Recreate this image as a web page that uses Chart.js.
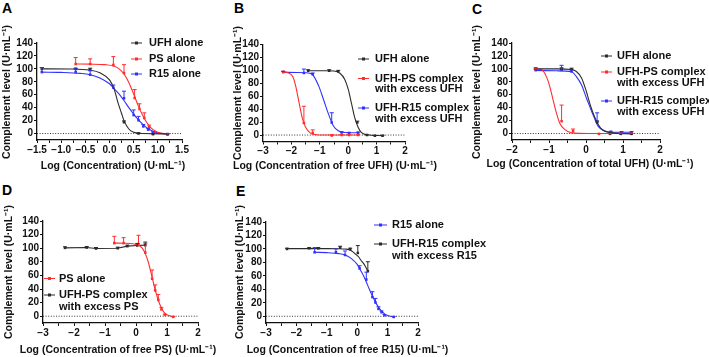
<!DOCTYPE html>
<html>
<head>
<meta charset="utf-8">
<script src="https://cdn.jsdelivr.net/npm/chart.js@4.4.0/dist/chart.umd.min.js"></script>
<style>
  html, body { margin: 0; padding: 0; background: #fff; }
  #page { position: relative; width: 709px; height: 357px; overflow: hidden; font-family: "Liberation Sans", Arial, sans-serif; }
  .tag { position: absolute; font: bold 14px "Liberation Sans", Arial, sans-serif; color: #000; }
</style>
</head>
<body>
<div id="page">
  <div class="tag" style="left:2px;top:0px">A</div>
  <div class="tag" style="left:234px;top:0px">B</div>
  <div class="tag" style="left:472px;top:1px">C</div>
  <div class="tag" style="left:2px;top:182px">D</div>
  <div class="tag" style="left:236px;top:183px">E</div>
</div>
<script>
// complement level vs log concentration, five panels

// shared tick labels
const yTicks = [0, 20, 40, 60, 80, 100, 120, 140];
const yTitle = 'Complement level (U·mL⁻¹)';
const aTicks = [-1.5, -1.25, -1.0, -0.75, -0.5, -0.25, 0, 0.25, 0.5, 0.75, 1.0, 1.25, 1.5];
const aTickLabels = ['−1.5', '', '−1.0', '', '−0.5', '', '0.0', '', '0.5', '', '1.0', '', '1.5'];
const wideTicks = [-3, -2.5, -2, -1.5, -1, -0.5, 0, 0.5, 1, 1.5, 2];
const wideTickLabels = ['−3', '', '−2', '', '−1', '', '0', '', '1', '', '2'];
const cTicks = [-2, -1.5, -1, -0.5, 0, 0.5, 1, 1.5, 2];
const cTickLabels = ['−2', '', '−1', '', '0', '', '1', '', '2'];

// UFH alone (A)
const aUfhX = [-1.4, -0.7, -0.4, 0.3, 0.6, 0.9, 1.2];
const aUfhY = [100, 100, 99, 17.5, 0, -1, -1];
const aUfhErr = [2, 1, 2, 2, 1, 0.5, 0.5];
const aUfhFitX = [-1.4, -0.8, -0.4, -0.2, 0, 0.1, 0.17, 0.25, 0.3, 0.4, 0.5, 0.7, 1.2];
const aUfhFitY = [100, 99.8, 98, 94, 83, 68, 49, 31, 20, 7, 2, 0, -0.5];

// PS alone (A, D)
const psX = [-0.7, -0.4, 0.08, 0.3, 0.52, 0.62, 0.72, 0.82, 0.93, 1.2];
const psY = [107.5, 107.5, 106, 93.5, 55, 38, 24, 10, 2, -1];
const psErr = [10, 8, 13, 13, 13, 8, 8, 3, 1, 0.5];
const psFitX = [-0.7, -0.4, -0.1, 0.1, 0.2, 0.3, 0.4, 0.5, 0.6, 0.7, 0.8, 0.9, 1.0, 1.2];
const psFitY = [107.5, 107.3, 106.5, 104, 100, 92, 79, 61, 42, 26, 14, 6, 2, -1];

// R15 alone (A, E)
const r15X = [-1.4, -0.7, -0.4, 0.08, 0.3, 0.5, 0.6, 0.7, 0.8, 0.9, 1.2];
const r15Y = [95, 95, 91, 71, 54.5, 28.5, 20.5, 11, 6, 1.5, -1];
const r15Err = [7, 5, 6, 4, 11, 8, 6, 3, 2, 1, 0.5];
const r15FitX = [-1.4, -1.0, -0.6, -0.4, -0.2, 0, 0.1, 0.2, 0.3, 0.4, 0.5, 0.6, 0.7, 0.8, 0.9, 1.0, 1.2];
const r15FitY = [95, 94.5, 93, 91, 86, 77, 69, 61, 51, 40, 30, 21, 13.5, 7.5, 3.5, 1, -1];

// B: vs free UFH
const bUfhX = [-1.41, -0.67, -0.35, 0.32, 0.66, 0.94, 1.21];
const bUfhY = [99.5, 99.5, 98.5, 19.5, 0, -1, -1];
const bUfhErr = [1.5, 1.5, 1.5, 2, 0.5, 0.5, 0.5];
const bUfhFitX = [-1.41, -0.8, -0.5, -0.29, -0.12, 0, 0.12, 0.23, 0.35, 0.46, 0.64, 1.21];
const bUfhFitY = [99.5, 99.5, 99, 95.5, 86, 71, 48, 27, 12, 4, 0.5, -1];
const bPsX = [-2.29, -1.56, -1.25, -0.58, -0.23, 0.03, 0.35];
const bPsY = [97.5, 18.5, 3, -0.5, 0, 0, 0];
const bPsErr = [1, 26, 5, 0.5, 0.5, 0.5, 0.5];
const bPsFitX = [-2.29, -2.1, -1.95, -1.85, -1.73, -1.62, -1.5, -1.33, -1.1, -0.6, 0.35];
const bPsFitY = [97.5, 96, 90, 76, 50, 27, 12, 3, 0.5, 0, 0];
const bR15X = [-2.29, -1.56, -1.25, -0.58, -0.23, 0.03, 0.35];
const bR15Y = [97.5, 96, 94, 19.5, 4, 3, 3.5];
const bR15Err = [1, 6, 2, 15, 1, 1, 1];
const bR15FitX = [-2.29, -1.8, -1.5, -1.27, -1.04, -0.87, -0.69, -0.52, -0.35, -0.12, 0.35];
const bR15FitY = [97, 96.8, 96.4, 94, 76, 55, 32, 14, 6.7, 4, 3.6];

// C: vs total UFH
const cUfhX = [-1.36, -0.66, -0.39, 0.3, 0.65, 0.94, 1.23];
const cUfhY = [100, 100, 99.5, 17.5, 0, -0.5, -0.5];
const cUfhErr = [1.5, 1.5, 1.5, 2, 0.5, 0.5, 0.5];
const cUfhFitX = [-1.36, -0.8, -0.4, -0.26, -0.12, 0.01, 0.1, 0.19, 0.33, 0.46, 0.69, 1.23];
const cUfhFitY = [100, 100, 99, 96, 86, 65, 47, 32, 14, 5, 1, -0.5];
const cPsX = [-1.36, -0.66, -0.35, 0.35, 0.65, 0.94, 1.23];
const cPsY = [100, 19, 3.5, -0.5, -0.5, 0, 0];
const cPsErr = [1, 25, 3.5, 0.5, 0.5, 0.5, 0.5];
const cPsFitX = [-1.36, -1.2, -1.07, -0.98, -0.89, -0.8, -0.71, -0.57, -0.39, 0.06, 1.23];
const cPsFitY = [100, 98.5, 88, 73, 52, 32, 16, 6, 1, 0, 0];
const cR15X = [-1.36, -0.66, -0.39, 0.3, 0.67, 0.96, 1.23];
const cR15Y = [98, 98.5, 96, 18, 2.5, 2, 2];
const cR15Err = [1, 7, 2, 14, 1, 1, 1];
const cR15FitX = [-1.36, -0.8, -0.39, -0.26, -0.12, 0.01, 0.1, 0.19, 0.33, 0.51, 0.78, 1.23];
const cR15FitY = [97.5, 97, 95.5, 88, 75, 55, 42, 29, 11, 4, 2, 2];

// D: UFH-PS complex with excess PS
const dCplxX = [-2.29, -1.59, -1.29, -0.59, -0.28, 0.04, 0.3];
const dCplxY = [100.5, 101, 99.5, 100, 103, 104, 104.5];
const dCplxErr = [1.5, 1.5, 1.5, 1.5, 1.5, 3, 4.5];

// E: UFH-R15 complex with excess R15
const eCplxX = [-2.31, -1.58, -1.28, -0.56, -0.23, 0.02, 0.35];
const eCplxY = [100, 101, 101, 102, 100, 94, 67];
const eCplxErr = [1, 1, 1, 2, 1, 11, 14];
const eCplxFitX = [-2.31, -1.5, -1.0, -0.6, -0.4, -0.27, -0.15, -0.05, 0.05, 0.11, 0.2, 0.27, 0.35];
const eCplxFitY = [100.5, 100.5, 100.5, 100.3, 99.8, 99, 96, 92, 88, 84, 79, 74, 67];

const BLACK = '#2b2b2b', RED = '#ff2d2d', BLUE = '#3030ff';
const FONT = '"Liberation Sans", Arial, sans-serif';

const pts = (xs, ys) => xs.map((x, i) => ({ x, y: ys[i] }));
const fit = (xs, ys, color) => ({
  data: pts(xs, ys), showLine: true, borderColor: color, borderWidth: 1.1,
  pointRadius: 0, cubicInterpolationMode: 'monotone', fill: false
});
const marks = (xs, ys, err, color, joined) => ({
  data: pts(xs, ys), showLine: !!joined, borderColor: color, borderWidth: 1.1, tension: 0,
  pointRadius: 1.8, pointStyle: 'rect', backgroundColor: color, pointBorderWidth: 0, err
});

// zero line, error bars, axis titles, legend
const extras = {
  id: 'extras',
  beforeDatasetsDraw(chart) {
    const { ctx, scales: { x, y } } = chart;
    const py = y.getPixelForValue(0);
    ctx.save();
    ctx.strokeStyle = '#333';
    ctx.lineWidth = 1;
    ctx.setLineDash([1, 1.6]);
    ctx.beginPath();
    ctx.moveTo(x.left, py);
    ctx.lineTo(x.right, py);
    ctx.stroke();
    ctx.restore();
  },
  afterDatasetsDraw(chart) {
    const { ctx, scales: { y } } = chart;
    ctx.save();
    ctx.lineWidth = 1;
    chart.data.datasets.forEach((ds, i) => {
      if (!ds.err) return;
      const meta = chart.getDatasetMeta(i);
      ctx.strokeStyle = ds.borderColor;
      meta.data.forEach((pt, j) => {
        const top = y.getPixelForValue(ds.data[j].y + ds.err[j]);
        ctx.beginPath();
        ctx.moveTo(pt.x, pt.y);
        ctx.lineTo(pt.x, top);
        ctx.moveTo(pt.x - 2, top);
        ctx.lineTo(pt.x + 2, top);
        ctx.stroke();
      });
    });
    ctx.restore();
  },
  afterDraw(chart, args, opts) {
    const ctx = chart.ctx;
    ctx.save();
    ctx.fillStyle = '#111';
    ctx.font = 'bold 10.5px ' + FONT;
    ctx.textAlign = 'center';
    ctx.textBaseline = 'middle';
    ctx.fillText(opts.xTitle, opts.xTitleX, opts.xTitleY);
    ctx.save();
    ctx.translate(opts.yTitleX, opts.yTitleY);
    ctx.rotate(-Math.PI / 2);
    ctx.fillText(yTitle, 0, 0);
    ctx.restore();

    ctx.textAlign = 'left';
    ctx.font = 'bold 11px ' + FONT;
    (opts.items || []).forEach(it => {
      ctx.strokeStyle = it.color;
      ctx.fillStyle = it.color;
      ctx.lineWidth = 1;
      ctx.beginPath();
      ctx.moveTo(it.x0, it.y);
      ctx.lineTo(it.x1, it.y);
      ctx.stroke();
      const mx = (it.x0 + it.x1) / 2;
      ctx.fillRect(mx - 1.5, it.y - 1.5, 3, 3);
      ctx.fillStyle = '#111';
      it.text.forEach((t, k) => ctx.fillText(t, it.tx, it.y + k * it.gap));
    });
    ctx.restore();
  }
};
Chart.register(extras);

const page = document.getElementById('page');

function panel(p) {
  const [bl, bt, br, bb] = p.box;
  const [al, at, ar, ab] = p.area;
  const wrap = document.createElement('div');
  wrap.style.cssText = `position:absolute;left:${bl}px;top:${bt}px;width:${br - bl}px;height:${bb - bt}px`;
  const cv = document.createElement('canvas');
  wrap.appendChild(cv);
  page.appendChild(wrap);
  const items = p.legend.map(it => ({ ...it, x0: it.x0 - bl, x1: it.x1 - bl, tx: it.tx - bl, y: it.y - bt }));
  new Chart(cv, {
    type: 'scatter',
    data: { datasets: p.datasets },
    options: {
      responsive: true,
      maintainAspectRatio: false,
      animation: false,
      events: [],
      layout: { padding: { left: 0, top: at - bt, right: br - ar, bottom: 0 } },
      plugins: {
        legend: { display: false }, tooltip: { enabled: false },
        extras: {
          items,
          xTitle: p.xTitle, xTitleX: p.xTitlePos[0] - bl, xTitleY: p.xTitlePos[1] - bt,
          yTitleX: p.yTitlePos[0] - bl, yTitleY: p.yTitlePos[1] - bt
        }
      },
      scales: {
        x: {
          type: 'linear', min: p.xMin, max: p.xMax,
          afterFit: s => { s.height = bb - ab; },
          afterBuildTicks: s => { s.ticks = p.xTicks.map(v => ({ value: v })); },
          ticks: { autoSkip: false, maxRotation: 0, padding: 1, color: '#111',
            font: { family: FONT, size: 10, weight: 'bold' },
            callback: (v, i) => p.xLabels[i] },
          grid: { drawOnChartArea: false, drawTicks: true, tickLength: 3, color: '#111', lineWidth: 1 },
          border: { color: '#111', width: 1.3 }
        },
        y: {
          type: 'linear', min: -10, max: 140,
          afterFit: s => { s.width = al - bl; },
          afterBuildTicks: s => { s.ticks = yTicks.map(v => ({ value: v })); },
          ticks: { autoSkip: false, padding: 1, color: '#111',
            font: { family: FONT, size: 10, weight: 'bold' } },
          grid: { drawOnChartArea: false, drawTicks: true, tickLength: 3, color: '#111', lineWidth: 1 },
          border: { color: '#111', width: 1.3 }
        }
      }
    }
  });
}

panel({
  box: [0, 18, 232, 178], area: [37, 43, 182, 140],
  xTitlePos: [113, 166.5], yTitlePos: [7.5, 92],
  xMin: -1.5, xMax: 1.5, xTicks: aTicks, xLabels: aTickLabels,
  xTitle: 'Log (Concentration) (U·mL⁻¹)',
  datasets: [
    fit(aUfhFitX, aUfhFitY, BLACK), marks(aUfhX, aUfhY, aUfhErr, BLACK),
    fit(psFitX, psFitY, RED), marks(psX, psY, psErr, RED),
    fit(r15FitX, r15FitY, BLUE), marks(r15X, r15Y, r15Err, BLUE)
  ],
  legend: [
    { color: BLACK, x0: 131, x1: 142, tx: 149, y: 43, gap: 10.5, text: ['UFH alone'] },
    { color: RED, x0: 131, x1: 142, tx: 149, y: 59, gap: 10.5, text: ['PS alone'] },
    { color: BLUE, x0: 131, x1: 142, tx: 149, y: 74, gap: 10.5, text: ['R15 alone'] }
  ]
});

panel({
  box: [226, 18, 470, 178], area: [263, 44.5, 405, 141.5],
  xTitlePos: [335, 166], yTitlePos: [238, 93],
  xMin: -3, xMax: 2, xTicks: wideTicks, xLabels: wideTickLabels,
  xTitle: 'Log (Concentration of free UFH) (U·mL⁻¹)',
  datasets: [
    fit(bUfhFitX, bUfhFitY, BLACK), marks(bUfhX, bUfhY, bUfhErr, BLACK),
    fit(bPsFitX, bPsFitY, RED), marks(bPsX, bPsY, bPsErr, RED),
    fit(bR15FitX, bR15FitY, BLUE), marks(bR15X, bR15Y, bR15Err, BLUE)
  ],
  legend: [
    { color: BLACK, x0: 358, x1: 369, tx: 375, y: 59, gap: 10.5, text: ['UFH alone'] },
    { color: RED, x0: 358, x1: 369, tx: 375, y: 78.5, gap: 10.5, text: ['UFH-PS complex', 'with excess UFH'] },
    { color: BLUE, x0: 358, x1: 369, tx: 375, y: 108, gap: 10.5, text: ['UFH-R15 complex', 'with excess UFH'] }
  ]
});

panel({
  box: [470, 18, 709, 178], area: [512, 43, 660, 140],
  xTitlePos: [590, 164], yTitlePos: [477.5, 92],
  xMin: -2, xMax: 2, xTicks: cTicks, xLabels: cTickLabels,
  xTitle: 'Log (Concentration of total UFH) (U·mL⁻¹)',
  datasets: [
    fit(cUfhFitX, cUfhFitY, BLACK), marks(cUfhX, cUfhY, cUfhErr, BLACK),
    fit(cPsFitX, cPsFitY, RED), marks(cPsX, cPsY, cPsErr, RED),
    fit(cR15FitX, cR15FitY, BLUE), marks(cR15X, cR15Y, cR15Err, BLUE)
  ],
  legend: [
    { color: BLACK, x0: 601, x1: 612, tx: 617, y: 56, gap: 10.5, text: ['UFH alone'] },
    { color: RED, x0: 601, x1: 612, tx: 617, y: 72, gap: 10.5, text: ['UFH-PS complex', 'with excess UFH'] },
    { color: BLUE, x0: 601, x1: 612, tx: 617, y: 101, gap: 10.5, text: ['UFH-R15 complex', 'with excess UFH'] }
  ]
});

panel({
  box: [0, 198, 232, 357], area: [43, 221, 198, 323],
  xTitlePos: [118, 350.5], yTitlePos: [9, 272],
  xMin: -3, xMax: 2, xTicks: wideTicks, xLabels: wideTickLabels,
  xTitle: 'Log (Concentration of free PS) (U·mL⁻¹)',
  datasets: [
    fit(psFitX, psFitY, RED), marks(psX, psY, psErr, RED),
    marks(dCplxX, dCplxY, dCplxErr, BLACK, true)
  ],
  legend: [
    { color: RED, x0: 44, x1: 55, tx: 59, y: 278.5, gap: 11.5, text: ['PS alone'] },
    { color: BLACK, x0: 44, x1: 55, tx: 59, y: 295, gap: 11.5, text: ['UFH-PS complex', 'with excess PS'] }
  ]
});

panel({
  box: [226, 198, 500, 357], area: [266, 222, 418, 323],
  xTitlePos: [347.5, 350.5], yTitlePos: [240, 272],
  xMin: -3, xMax: 2, xTicks: wideTicks, xLabels: wideTickLabels,
  xTitle: 'Log (Concentration of free R15) (U·mL⁻¹)',
  datasets: [
    fit(r15FitX, r15FitY, BLUE), marks(r15X, r15Y, r15Err, BLUE),
    fit(eCplxFitX, eCplxFitY, BLACK), marks(eCplxX, eCplxY, eCplxErr, BLACK)
  ],
  legend: [
    { color: BLUE, x0: 374, x1: 387, tx: 392, y: 225, gap: 12, text: ['R15 alone'] },
    { color: BLACK, x0: 374, x1: 387, tx: 392, y: 244, gap: 12, text: ['UFH-R15 complex', 'with excess R15'] }
  ]
});
</script>
</body>
</html>
